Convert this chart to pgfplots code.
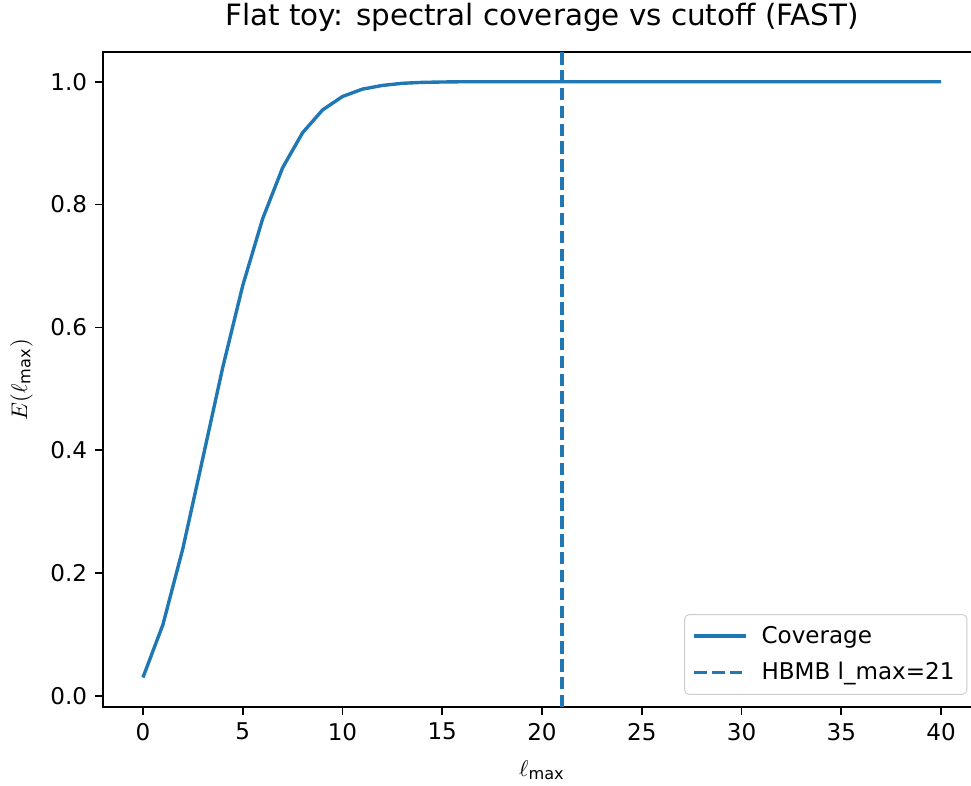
\documentclass[border=0pt]{standalone}
\usepackage{fontspec}
\setmainfont{DejaVu Sans}
\usepackage{pgfplots}
\pgfplotsset{compat=1.18}
\definecolor{mplblue}{HTML}{1F77B4}

\begin{document}
\begin{tikzpicture}
\begin{axis}[
    name=ax,
    width=388.5pt, height=290pt,
    scale only axis,
    xmin=-2, xmax=42,
    ymin=-0.0185, ymax=1.0485,
    xtick={0,5,...,40},
    ytick={0,0.2,...,1.0},
    yticklabel style={/pgf/number format/fixed, /pgf/number format/fixed zerofill, /pgf/number format/precision=1},
    /pgf/number format/assume math mode=true,
    tick align=outside, tick pos=left,
    major tick length=3.5pt,
    every tick/.style={black, line width=0.8pt},
    axis line style={line width=0.8pt},
    ticklabel style={font=\fontsize{10.2}{12}\selectfont},
    title={Flat toy: spectral coverage vs cutoff (FAST)},
    title style={font=\fontsize{13}{15}\selectfont, at={(0.5,1)}, anchor=base, yshift=5.5pt},
    xlabel={$\ell_{\max}$},
    ylabel={$E(\ell_{\max})$},
    label style={font=\fontsize{10.2}{12}\selectfont},
    ylabel shift=1pt,
    xlabel shift=2pt,
    legend cell align=left,
    legend style={at={(1,0)}, anchor=south east, xshift=-6pt, yshift=5.5pt,
        font=\fontsize{10.2}{12}\selectfont, draw=black!20, rounded corners=2pt,
        inner xsep=3.5pt, inner ysep=3pt, row sep=3pt,
        /tikz/every odd column/.append style={column sep=4pt}},
    legend image post style={xscale=1.35},
]
\addplot[mplblue, line width=1.5pt] coordinates {
(0,0.030) (1,0.116) (2,0.240) (3,0.387) (4,0.535) (5,0.668) (6,0.777) (7,0.860)
(8,0.917) (9,0.954) (10,0.976) (11,0.988) (12,0.994) (13,0.9975) (14,0.999)
(15,0.9996) (16,1.0) (17,1.0) (18,1.0) (19,1.0) (20,1.0) (21,1.0) (22,1.0)
(23,1.0) (24,1.0) (25,1.0) (26,1.0) (27,1.0) (28,1.0) (29,1.0) (30,1.0)
(31,1.0) (32,1.0) (33,1.0) (34,1.0) (35,1.0) (36,1.0) (37,1.0) (38,1.0)
(39,1.0) (40,1.0)};
\addlegendentry{Coverage}
\addplot[mplblue, line width=1.5pt, dash pattern=on 5.5pt off 2.4pt] coordinates {(21,-0.0185) (21,1.0485)};
\addlegendentry{HBMB l\_max=21}
\end{axis}
% the reference image is cut just left of the right spine
\pgfresetboundingbox
\path[use as bounding box] ([xshift=-45.6pt, yshift=-34.5pt]ax.south west) rectangle ([xshift=-4.4pt, yshift=23pt]ax.north east);
\end{tikzpicture}
\end{document}
